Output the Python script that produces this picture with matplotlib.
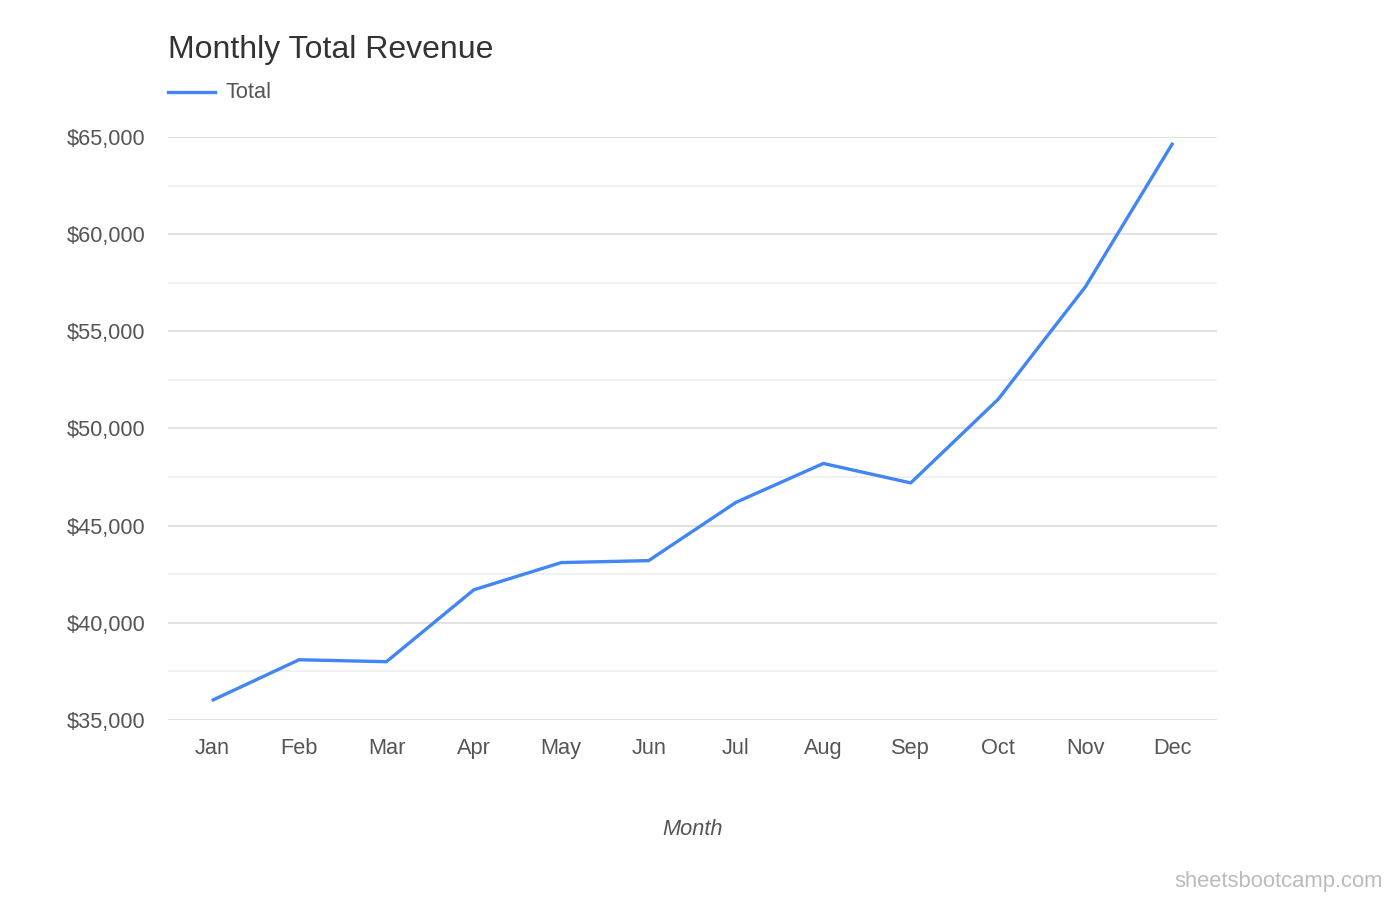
import matplotlib.pyplot as plt
from matplotlib.ticker import FuncFormatter, MultipleLocator
from matplotlib.lines import Line2D

plt.rcParams['font.family'] = ['Liberation Sans', 'DejaVu Sans']

months = ['Jan', 'Feb', 'Mar', 'Apr', 'May', 'Jun',
          'Jul', 'Aug', 'Sep', 'Oct', 'Nov', 'Dec']
total = [36000, 38100, 38000, 41700, 43100, 43200,
         46200, 48200, 47200, 51500, 57300, 64700]
y_ticks = [35000, 40000, 45000, 50000, 55000, 60000, 65000]

fig = plt.figure(figsize=(14, 9), dpi=100)
ax = fig.add_axes([0.12, 0.2, 0.749, 0.6478])

x = list(range(len(months)))
ax.plot(x, total, color='#4285F4', linewidth=2.4, solid_capstyle='butt', zorder=3)

ax.set_xlim(-0.5, len(months) - 0.5)
ax.set_ylim(y_ticks[0], y_ticks[-1])
ax.set_yticks(y_ticks)
ax.yaxis.set_minor_locator(MultipleLocator(2500))
ax.yaxis.set_major_formatter(FuncFormatter(lambda v, p: '${:,.0f}'.format(v)))
ax.set_xticks(x)
ax.set_xticklabels(months)

ax.grid(axis='y', which='major', color='#dddddd', linewidth=1.2, zorder=0)
ax.grid(axis='y', which='minor', color='#efefef', linewidth=1.2, zorder=0)
ax.set_axisbelow(True)
for s in ax.spines.values():
    s.set_visible(False)
ax.tick_params(axis='both', which='both', length=0, labelsize=15.7, colors='#555555')
ax.tick_params(axis='y', pad=16)
ax.tick_params(axis='x', pad=13)

ax.set_xlabel('Month', fontsize=15.7, style='italic', color='#555555', labelpad=43)

fig.text(168 / 1400, 1 - 50 / 900, 'Monthly Total Revenue', fontsize=23,
         color='#333333', ha='left', va='center')
fig.add_artist(Line2D([168 / 1400, 215 / 1400], [1 - 92 / 900, 1 - 92 / 900],
                      color='#4285F4', linewidth=2.4, transform=fig.transFigure))
fig.text(226 / 1400, 1 - 93 / 900, 'Total', fontsize=15.7, color='#555555',
         ha='left', va='center')
fig.text(1383 / 1400, 1 - 881 / 900, 'sheetsbootcamp.com', fontsize=15.8,
         color='#bbbbbb', ha='right', va='center')

fig.savefig('out.png', dpi=100)
